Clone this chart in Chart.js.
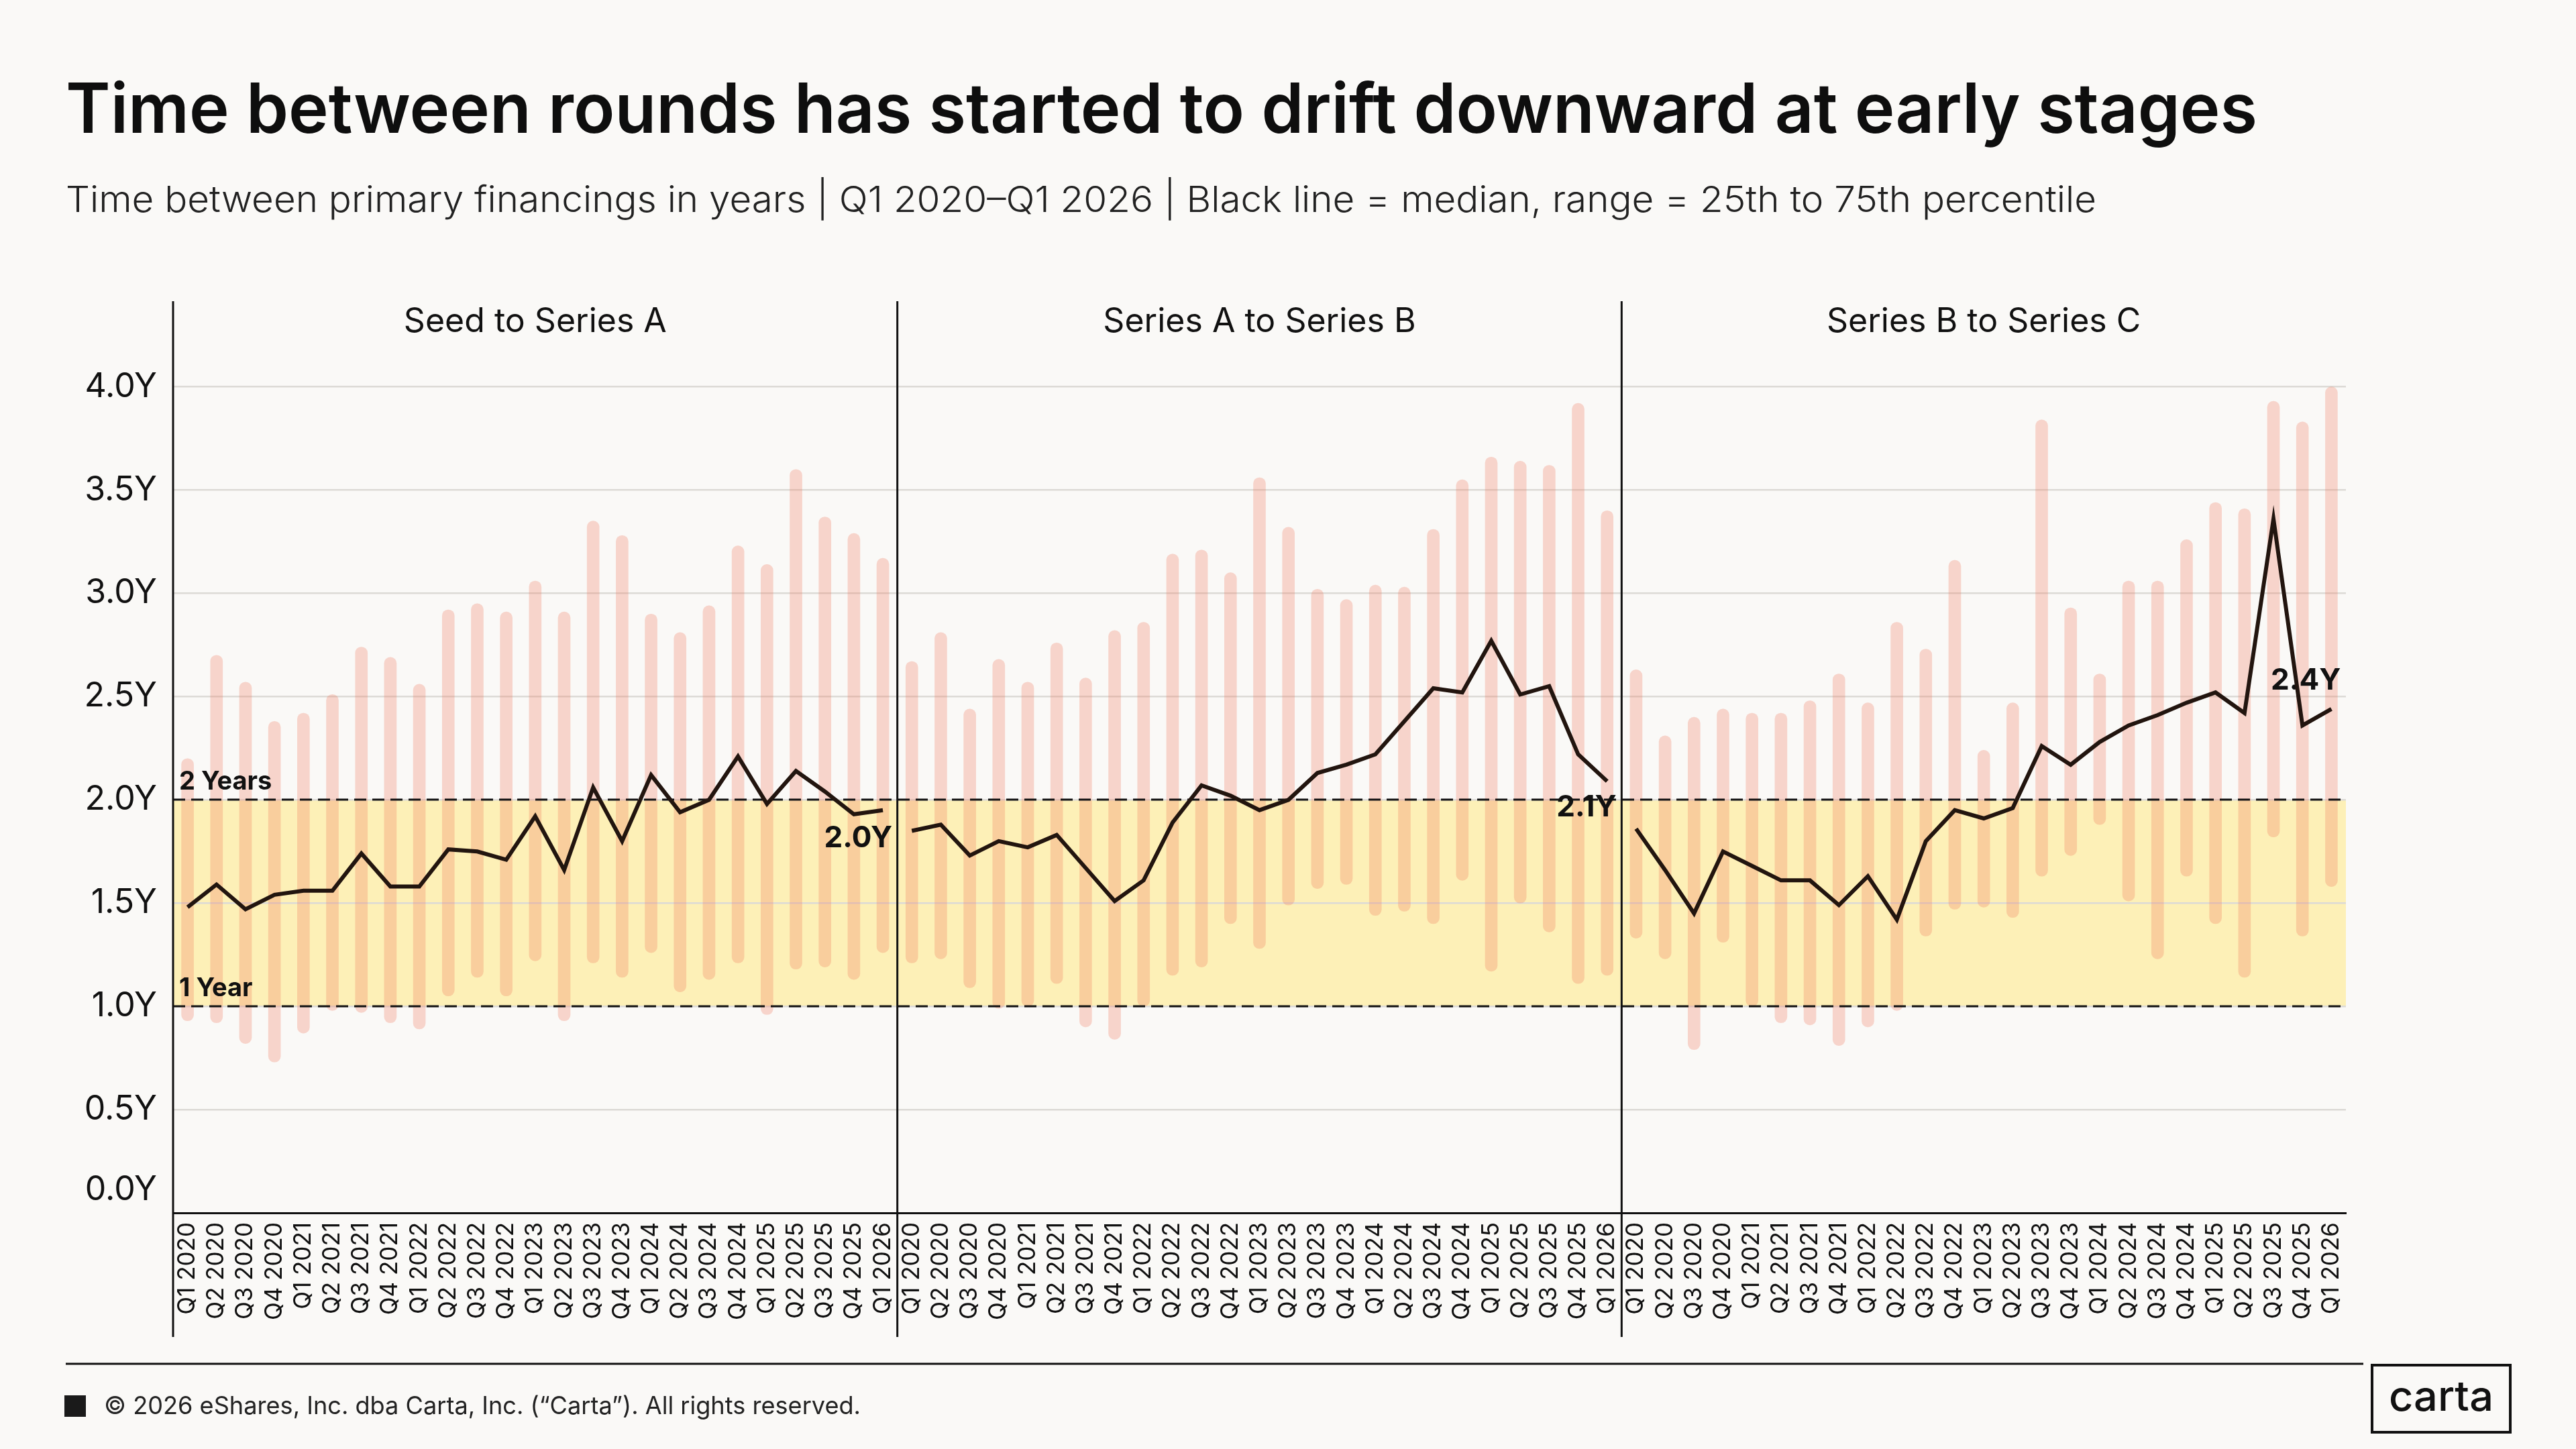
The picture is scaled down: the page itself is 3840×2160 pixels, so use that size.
<!DOCTYPE html>
<html>
<head>
<meta charset="utf-8">
<title>Time between rounds</title>
<script src="https://cdn.jsdelivr.net/npm/chart.js@4.4.1/dist/chart.umd.min.js"></script>
<style>
  html, body { margin: 0; padding: 0; background: #faf9f7; }
  canvas { display: block; }
</style>
</head>
<body>
<canvas id="roundsChart" width="3840" height="2160" style="width:3840px;height:2160px"></canvas>
<script>
// quarters shown under each panel
const quarters = [
  'Q1 2020', 'Q2 2020', 'Q3 2020', 'Q4 2020',
  'Q1 2021', 'Q2 2021', 'Q3 2021', 'Q4 2021',
  'Q1 2022', 'Q2 2022', 'Q3 2022', 'Q4 2022',
  'Q1 2023', 'Q2 2023', 'Q3 2023', 'Q4 2023',
  'Q1 2024', 'Q2 2024', 'Q3 2024', 'Q4 2024',
  'Q1 2025', 'Q2 2025', 'Q3 2025', 'Q4 2025',
  'Q1 2026'
];
const panelNames = ['Seed to Series A', 'Series A to Series B', 'Series B to Series C'];

// Seed to Series A (years)
const seedLow    = [0.93, 0.92, 0.82, 0.73, 0.87, 0.98, 0.97, 0.92, 0.89, 1.05, 1.14, 1.05, 1.22, 0.93, 1.21, 1.14, 1.26, 1.07, 1.13, 1.21, 0.96, 1.18, 1.19, 1.13, 1.26];
const seedHigh   = [2.20, 2.70, 2.57, 2.38, 2.42, 2.51, 2.74, 2.69, 2.56, 2.92, 2.95, 2.91, 3.06, 2.91, 3.35, 3.28, 2.90, 2.81, 2.94, 3.23, 3.14, 3.60, 3.37, 3.29, 3.17];
const seedMedian = [1.48, 1.59, 1.47, 1.54, 1.56, 1.56, 1.74, 1.58, 1.58, 1.76, 1.75, 1.71, 1.92, 1.66, 2.06, 1.80, 2.12, 1.94, 2.00, 2.21, 1.98, 2.14, 2.04, 1.93, 1.95];

// Series A to Series B
const aToBLow    = [1.21, 1.23, 1.09, 0.99, 1.00, 1.11, 0.90, 0.84, 1.00, 1.15, 1.19, 1.40, 1.28, 1.49, 1.57, 1.59, 1.44, 1.46, 1.40, 1.61, 1.17, 1.50, 1.36, 1.11, 1.15];
const aToBHigh   = [2.67, 2.81, 2.44, 2.68, 2.57, 2.76, 2.59, 2.82, 2.86, 3.19, 3.21, 3.10, 3.56, 3.32, 3.02, 2.97, 3.04, 3.03, 3.31, 3.55, 3.66, 3.64, 3.62, 3.92, 3.40];
const aToBMedian = [1.85, 1.88, 1.73, 1.80, 1.77, 1.83, 1.67, 1.51, 1.61, 1.89, 2.07, 2.02, 1.95, 2.00, 2.13, 2.17, 2.22, 2.38, 2.54, 2.52, 2.77, 2.51, 2.55, 2.22, 2.09];

// Series B to Series C
const bToCLow    = [1.33, 1.23, 0.79, 1.31, 1.00, 0.92, 0.91, 0.81, 0.90, 0.98, 1.34, 1.47, 1.48, 1.43, 1.63, 1.73, 1.88, 1.51, 1.23, 1.63, 1.40, 1.14, 1.82, 1.34, 1.58];
const bToCHigh   = [2.63, 2.31, 2.40, 2.44, 2.42, 2.42, 2.48, 2.61, 2.47, 2.86, 2.73, 3.16, 2.24, 2.47, 3.84, 2.93, 2.61, 3.06, 3.06, 3.26, 3.44, 3.41, 3.93, 3.83, 4.00];
const bToCMedian = [1.86, 1.66, 1.45, 1.75, 1.68, 1.61, 1.61, 1.49, 1.63, 1.42, 1.80, 1.95, 1.91, 1.96, 2.26, 2.17, 2.28, 2.36, 2.41, 2.47, 2.52, 2.42, 3.36, 2.36, 2.44];

const yTicks = [0, 0.5, 1, 1.5, 2, 2.5, 3, 3.5, 4];
const endLabels = ['2.0Y', '2.1Y', '2.4Y'];
const bandLabels = [{ value: 2, text: '2 Years' }, { value: 1, text: '1 Year' }];

const lows = [seedLow, aToBLow, bToCLow];
const highs = [seedHigh, aToBHigh, bToCHigh];
const medians = [seedMedian, aToBMedian, bToCMedian];
const n = quarters.length;

const allLabels = [].concat(quarters, quarters, quarters);
const rangeData = [];
lows.forEach((lo, p) => lo.forEach((v, i) => rangeData.push([v, highs[p][i]])));

const medianSets = medians.map((m, p) => {
    const data = new Array(n * 3).fill(null);
    m.forEach((v, i) => { data[p * n + i] = v; });
    return {
        type: 'line',
        label: panelNames[p],
        data: data,
        borderColor: '#22150f',
        borderWidth: 6,
        pointRadius: 0,
        tension: 0,
        spanGaps: false,
        order: 1
    };
});

const FONT = 'Inter, "Noto Sans", sans-serif';

function fitText(ctx, text, x, y, width) {
    const w = ctx.measureText(text).width;
    ctx.save();
    ctx.translate(x, y);
    ctx.scale(width / w, 1);
    ctx.fillText(text, 0, 0);
    ctx.restore();
}

const decor = {
    id: 'decor',
    beforeDraw(chart) {
        const { ctx, chartArea: a, scales: { y } } = chart;
        ctx.save();
        ctx.fillStyle = '#faf9f7';
        ctx.fillRect(0, 0, chart.width, chart.height);
        const top = y.getPixelForValue(2), bottom = y.getPixelForValue(1);
        ctx.fillStyle = '#fdf0b7';
        ctx.fillRect(a.left, top, a.right - a.left, bottom - top);
        ctx.restore();
    },
    afterDatasetDraw(chart, args) {
        if (args.meta.type !== 'bar') return;
        const { ctx, chartArea: a, scales: { x, y } } = chart;
        ctx.save();
        // dashed 1 year / 2 year lines
        ctx.strokeStyle = '#111';
        ctx.lineWidth = 3;
        ctx.setLineDash([18, 9]);
        bandLabels.forEach(b => {
            const py = Math.round(y.getPixelForValue(b.value));
            ctx.beginPath();
            ctx.moveTo(a.left, py);
            ctx.lineTo(a.right, py);
            ctx.stroke();
        });
        ctx.setLineDash([]);
        ctx.fillStyle = '#111';
        ctx.font = '700 38px ' + FONT;
        ctx.textAlign = 'left';
        ctx.textBaseline = 'alphabetic';
        bandLabels.forEach(b => {
            ctx.fillText(b.text, a.left + 9, y.getPixelForValue(b.value) - 15);
        });
        // latest median labels
        ctx.font = '700 44px ' + FONT;
        ctx.textAlign = 'right';
        ctx.textBaseline = 'middle';
        const shift = [42, 39, -42];
        medians.forEach((m, p) => {
            const px = x.getPixelForValue(p * n + n - 1);
            const py = y.getPixelForValue(m[n - 1]);
            ctx.fillText(endLabels[p], px + 14, py + shift[p]);
        });
        ctx.restore();
    },
    afterDraw(chart) {
        const { ctx, chartArea: a, scales: { x, y } } = chart;
        ctx.save();
        // panel dividers
        ctx.strokeStyle = '#111';
        ctx.lineWidth = 3;
        const edges = [a.left];
        for (let p = 1; p < 3; p++) {
            edges.push((x.getPixelForValue(p * n - 1) + x.getPixelForValue(p * n)) / 2);
        }
        edges.forEach(ex => {
            ctx.beginPath();
            ctx.moveTo(ex, 449);
            ctx.lineTo(ex, 1993);
            ctx.stroke();
        });
        // panel headers
        ctx.fillStyle = '#111';
        ctx.font = '400 50px ' + FONT;
        ctx.textAlign = 'center';
        ctx.textBaseline = 'middle';
        const ends = edges.concat([a.right]);
        panelNames.forEach((name, p) => {
            ctx.fillText(name, (ends[p] + ends[p + 1]) / 2, 480);
        });
        // y tick labels
        ctx.font = '400 50px ' + FONT;
        ctx.textAlign = 'right';
        yTicks.forEach(v => {
            const py = y.getPixelForValue(v) - (v === 0 ? 34 : 0);
            ctx.fillText(v.toFixed(1) + 'Y', 234, py);
        });
        // title + subtitle
        ctx.textAlign = 'left';
        ctx.textBaseline = 'alphabetic';
        ctx.fillStyle = '#0e0e0e';
        ctx.font = '600 103px ' + FONT;
        fitText(ctx, 'Time between rounds has started to drift downward at early stages', 98, 198, 3267);
        ctx.fillStyle = '#222';
        ctx.font = '300 54px ' + FONT;
        fitText(ctx, 'Time between primary financings in years | Q1 2020\u2013Q1 2026 | Black line = median, range = 25th to 75th percentile', 98, 316, 3027);
        // footer
        ctx.beginPath();
        ctx.moveTo(98, 2033);
        ctx.lineTo(3523, 2033);
        ctx.stroke();
        ctx.fillStyle = '#1a1a1a';
        ctx.fillRect(96, 2080, 32, 32);
        ctx.fillStyle = '#222';
        ctx.font = '400 37px ' + FONT;
        fitText(ctx, '\u00a9 2026 eShares, Inc. dba Carta, Inc. (\u201cCarta\u201d). All rights reserved.', 155, 2108, 1128);
        ctx.lineWidth = 4;
        ctx.strokeStyle = '#111';
        ctx.strokeRect(3536, 2035, 206, 100);
        ctx.fillStyle = '#111';
        ctx.font = '500 62px ' + FONT;
        ctx.textAlign = 'center';
        const lw = ctx.measureText('carta').width;
        ctx.save();
        ctx.translate(3639, 2103);
        ctx.scale(156 / lw, 1);
        ctx.fillText('carta', 0, 0);
        ctx.restore();
        ctx.restore();
    }
};

new Chart(document.getElementById('roundsChart').getContext('2d'), {
    data: {
        labels: allLabels,
        datasets: [
            {
                type: 'bar',
                label: 'Range',
                data: rangeData,
                backgroundColor: 'rgba(242,118,88,0.28)',
                barThickness: 18,
                borderRadius: 9,
                borderSkipped: false,
                order: 3
            }
        ].concat(medianSets)
    },
    options: {
        responsive: false,
        animation: false,
        devicePixelRatio: 1,
        layout: { padding: { top: 515, right: 343, left: 0, bottom: 0 } },
        scales: {
            x: {
                type: 'category',
                offset: true,
                grid: { display: false, drawTicks: false },
                border: { display: true, color: '#111', width: 3 },
                ticks: {
                    autoSkip: false,
                    minRotation: 90,
                    maxRotation: 90,
                    padding: 14,
                    color: '#111',
                    font: { family: FONT, size: 35 }
                },
                afterFit(s) { s.height = 352; }
            },
            y: {
                min: 0,
                max: 4.2,
                ticks: { display: false, stepSize: 0.5 },
                grid: { color: '#dcdad6', lineWidth: 2.5, drawTicks: false },
                border: { display: false },
                afterBuildTicks(s) {
                    s.ticks = s.ticks.filter(t => Math.abs(t.value * 2 - Math.round(t.value * 2)) < 1e-6);
                },
                afterFit(s) { s.width = 258; }
            }
        },
        plugins: {
            legend: { display: false },
            tooltip: { enabled: false }
        }
    },
    plugins: [decor]
});
</script>
</body>
</html>
